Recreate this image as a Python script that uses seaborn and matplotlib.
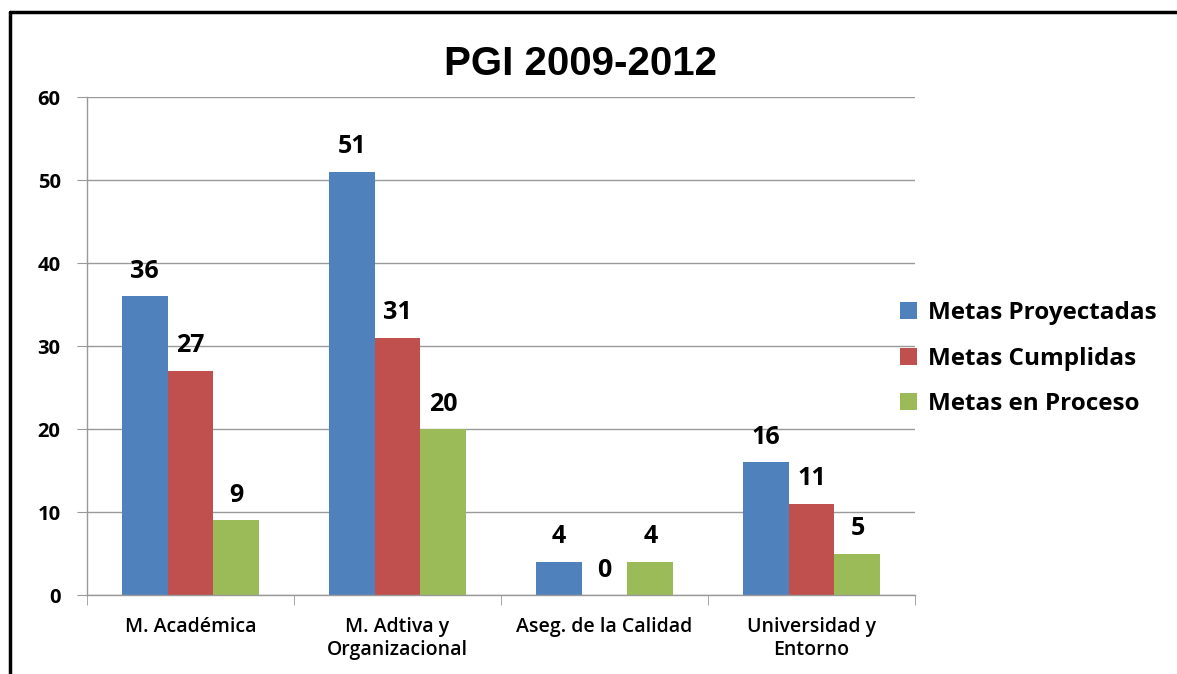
import numpy as np
import pandas as pd
import matplotlib
matplotlib.use("Agg")
import matplotlib.pyplot as plt
from matplotlib.lines import Line2D
import seaborn as sns

# Data
categories = ["M. Académica", "M. Adtiva y\nOrganizacional", "Aseg. de la Calidad", "Universidad y\nEntorno"]
series = ["Metas Proyectadas", "Metas Cumplidas", "Metas en Proceso"]
proyectadas = [36, 51, 4, 16]
cumplidas = [27, 31, 0, 11]
en_proceso = [9, 20, 4, 5]
y_ticks = [0, 10, 20, 30, 40, 50, 60]

colors = ["#4F81BD", "#C0504D", "#9BBB59"]

# Long table for seaborn
df = pd.DataFrame({
    "categoria": categories * 3,
    "serie": [series[0]] * 4 + [series[1]] * 4 + [series[2]] * 4,
    "valor": proyectadas + cumplidas + en_proceso,
})

sns.set_style("white")
plt.rcParams["font.family"] = ["Open Sans", "DejaVu Sans"]
plt.rcParams["text.color"] = "black"
plt.rcParams["xtick.color"] = "black"
plt.rcParams["ytick.color"] = "black"

fig = plt.figure(figsize=(11.77, 6.74), dpi=100)
ax = fig.add_axes([0.0739, 0.1172, 0.7035, 0.7388])

sns.barplot(data=df, x="categoria", y="valor", hue="serie", hue_order=series,
            palette=colors, width=0.665, gap=0, saturation=1, linewidth=0, ax=ax)

# Value labels on top of each bar
for container in ax.containers:
    ax.bar_label(container, fmt="%d", padding=9, fontsize=18, fontweight="bold", color="black")

# Axes styling
ax.set_ylim(0, 60)
ax.set_xlim(-0.5, 3.5)
ax.set_yticks(y_ticks)
ax.set_yticklabels([str(t) for t in y_ticks], fontsize=14.5, fontweight="bold")
ax.yaxis.grid(True, color="#999999", linewidth=1)
ax.set_axisbelow(True)
ax.tick_params(axis="y", length=7, color="#999999", labelcolor="black", direction="out", pad=12, left=True)
ax.tick_params(axis="x", which="major", length=0, pad=16, labelsize=14, labelcolor="black")
ax.set_xticks(np.arange(-0.5, 4, 1), minor=True)
ax.tick_params(axis="x", which="minor", length=7, color="#999999", direction="out", bottom=True)
for lbl in ax.get_xticklabels():
    lbl.set_fontweight("semibold")
for side in ["top", "right"]:
    ax.spines[side].set_visible(False)
for side in ["left", "bottom"]:
    ax.spines[side].set_color("#999999")
    ax.spines[side].set_linewidth(1)
ax.set_xlabel("")
ax.set_ylabel("")

# Title
fig.text(0.493, 0.905, "PGI 2009-2012", ha="center", va="center",
         fontsize=29, fontweight="bold", family="Liberation Sans", color="black")

# Legend outside to the right
handles, labels = ax.get_legend_handles_labels()
ax.get_legend().remove()
fig.legend(handles, labels, loc="center left", bbox_to_anchor=(0.746, 0.468),
           frameon=False, handlelength=0.7, handleheight=0.7,
           handletextpad=0.45, labelspacing=0.9,
           prop={"weight": "bold", "size": 17.5})

# Outer frame lines (left and top)
fig.add_artist(Line2D([0.0088, 0.0088], [0, 0.982], transform=fig.transFigure,
                      color="black", linewidth=2.5))
fig.add_artist(Line2D([0.0088, 1.0], [0.982, 0.982], transform=fig.transFigure,
                      color="black", linewidth=2.5))

fig.savefig("out.png", dpi=100)
